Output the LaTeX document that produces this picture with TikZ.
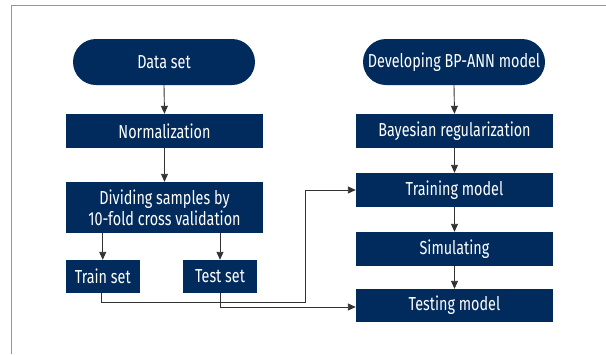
\documentclass[tikz,border=0pt]{standalone}
\usepackage{fontspec}
\setmainfont{Fira Sans}[FakeStretch=0.765]
\usetikzlibrary{arrows.meta}
\definecolor{navy}{RGB}{0,43,92}
\definecolor{linegray}{RGB}{50,50,50}
\definecolor{framegray}{RGB}{150,150,150}
\tikzset{
  box/.style={fill=navy, text=white, inner sep=0pt, font=\fontsize{18.8}{21}\selectfont, align=center},
  term/.style={box, rounded corners=23pt},
  conn/.style={draw=linegray, line width=0.9pt, -{Triangle[length=8pt,width=7pt]}},
}
\begin{document}
\begin{tikzpicture}[x=1pt,y=-1pt]
\useasboundingbox (0,0) rectangle (606,354);
\draw[framegray, line width=1pt] (11,354) -- (11,5.5) -- (606,5.5);
% left column
\node[term, minimum width=182pt, minimum height=46pt] (data) at (164,62) {Data set};
\node[box, minimum width=197pt, minimum height=34pt] (norm) at (164.5,131) {Normalization};
\node[box, minimum width=197pt, minimum height=51pt] (div) at (164.5,207.5) {Dividing samples by\\10-fold cross validation};
\node[box, minimum width=73.5pt, minimum height=33pt] (train) at (102.75,276.5) {Train set};
\node[box, minimum width=74pt, minimum height=33pt] (test) at (220,276.5) {Test set};
% right column
\node[term, minimum width=182pt, minimum height=46pt] (dev) at (454,62) {Developing BP-ANN model};
\node[box, minimum width=197pt, minimum height=34pt] (bay) at (454.5,131) {Bayesian regularization};
\node[box, minimum width=197pt, minimum height=34pt] (trm) at (454.5,190) {Training model};
\node[box, minimum width=197pt, minimum height=34pt] (sim) at (454.5,249) {Simulating};
\node[box, minimum width=197pt, minimum height=33pt] (tsm) at (454.5,305.5) {Testing model};
% connectors
\draw[conn] (data.south) -- (norm.north);
\draw[conn] (norm.south) -- (div.north);
\draw[conn] (div.south -| train) -- (train.north);
\draw[conn] (div.south -| test) -- (test.north);
\draw[conn] (dev.south) -- (bay.north);
\draw[conn] (bay.south) -- (trm.north);
\draw[conn] (trm.south) -- (sim.north);
\draw[conn] (sim.south) -- (tsm.north);
\coordinate (c1) at (101.5,302);
\coordinate (c2) at (305.5,302);
\draw[conn] (train.south -| c1) -- (c1) -- (c2) |- (trm.west);
\coordinate (c3) at (220.5,307);
\draw[conn] (test.south -| c3) -- (c3) -- (c3 -| tsm.west);
\end{tikzpicture}
\end{document}
